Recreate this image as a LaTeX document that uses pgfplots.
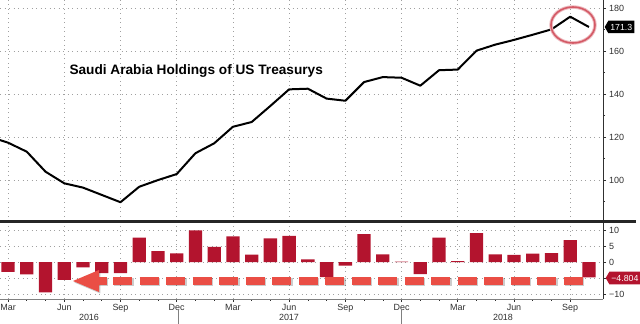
\documentclass[border=0pt]{standalone}
\usepackage{pgfplots}
\pgfplotsset{compat=1.18}
\usepackage{fontspec}
\setmainfont{Liberation Sans}
\usetikzlibrary{shapes.symbols}
\definecolor{barred}{HTML}{B3142E}
\definecolor{arrowred}{HTML}{EA4E45}
\definecolor{gridgray}{HTML}{A0A0A0}
\definecolor{ticktext}{HTML}{303030}
\definecolor{circred}{HTML}{D45A66}
\begin{document}
\begin{tikzpicture}
\path[use as bounding box] (0bp,0bp) rectangle (640bp,324bp);
\pgfplotsset{
  bb/.style={
    scale only axis, width=603bp,
    xmin=-0.43, xmax=31.75,
    axis y line*=right, axis x line*=bottom,
    y axis line style={draw=none},
    grid=major,
    major grid style={gridgray, line width=0.6bp, dash pattern=on 0.9bp off 3.6bp},
    xtick={0,3,...,30},
    tick align=outside,
    major tick length=3bp, minor tick length=2bp,
    tick style={ticktext, line width=0.6bp},
    ticklabel style={font=\fontsize{9}{10}\selectfont, text=ticktext},
    yticklabel style={anchor=west, inner sep=0pt, xshift=3bp},
    /pgf/number format/assume math mode=true,
  }
}
% top panel
\begin{axis}[bb, at={(0bp,103bp)}, anchor=south west, height=221bp,
  ymin=81.07, ymax=183.86,
  x axis line style={draw=none},
  xtick style={draw=none}, xticklabels={},
  ytick={100,120,140,160,180}, yticklabels={100,120,140,160,180},
  minor ytick={90,110,130,150,170},
]
\addplot[black, line width=2bp, line join=round] coordinates {
(-1,120.3) (0,117.5) (1,113.3) (2,104.0) (3,98.6) (4,96.6) (5,93.2) (6,89.8)
(7,97.0) (8,100.1) (9,102.9) (10,112.6) (11,117.2) (12,124.9) (13,127.1)
(14,134.6) (15,142.3) (16,142.6) (17,138.0) (18,137.0) (19,145.7) (20,148.0)
(21,147.7) (22,144.0) (23,151.2) (24,151.5) (25,160.3) (26,163.1) (27,165.3)
(28,167.7) (29,170.2) (30,176.1) (31,171.3)};
\end{axis}
% bottom panel
\begin{axis}[bb, at={(0bp,25bp)}, anchor=south west, height=75bp,
  ymin=-11.56, ymax=11.875,
  x axis line style={draw=gray, line width=0.6bp},
  minor x tick num=2,
  xticklabels={Mar,Jun,Sep,Dec,Mar,Jun,Sep,Dec,Mar,Jun,Sep},
  xticklabel style={inner sep=0pt, yshift=-2bp},
  ytick={-10,-5,0,5,10}, yticklabels={−10,,0,5,10},
]
\addplot[ybar, bar width=13.3bp, fill=barred, draw=none] coordinates {
(0,-3.1) (1,-3.9) (2,-9.5) (3,-5.6) (4,-1.7) (5,-3.5) (6,-3.5) (7,7.6)
(8,3.4) (9,2.7) (10,9.9) (11,4.7) (12,8.0) (13,2.3) (14,7.4) (15,8.2)
(16,0.8) (17,-4.7) (18,-1.1) (19,8.75) (20,2.4) (21,0.15) (22,-3.75) (23,7.6)
(24,0.3) (25,9.0) (26,2.4) (27,2.2) (28,2.6) (29,2.8) (30,6.8) (31,-4.804)};
\end{axis}
\begin{scope}[x=1bp,y=1bp]
% frame lines
\draw[ticktext, line width=0.7bp] (603.3,25) -- (603.3,324);
\draw[black!85, line width=3bp] (0,102.3) -- (636,102.3);
% title
\node[anchor=west, font=\bfseries\fontsize{13.7}{16}\selectfont] at (66,253) {Saudi Arabia Holdings of US Treasurys};
% year labels
\node[font=\fontsize{9}{10}\selectfont, text=ticktext] at (89,6.5) {2016};
\node[font=\fontsize{9}{10}\selectfont, text=ticktext] at (289,6.5) {2017};
\node[font=\fontsize{9}{10}\selectfont, text=ticktext] at (503,6.5) {2018};
\draw[gray, line width=0.6bp] (178,0) -- (178,15);
\draw[gray, line width=0.6bp] (401.7,0) -- (401.7,15);
% circle
\draw[circred!40, line width=3.5bp] (573,299) ellipse [x radius=22, y radius=18];
\draw[circred, line width=1.6bp] (573,299) ellipse [x radius=22, y radius=18];
% value labels
\node[signal, signal to=west, signal pointer angle=120, fill=black, text=white,
  font=\fontsize{8.8}{9}\selectfont, inner xsep=2bp, inner ysep=2bp, anchor=west, minimum height=12.5bp] at (604.5,297) {171.3};
\node[signal, signal to=west, signal pointer angle=120, fill=barred, text=white,
  font=\fontsize{8.8}{9}\selectfont, inner xsep=2bp, inner ysep=2bp, anchor=west, minimum height=12.5bp] at (605.5,46) {−4.804};
% dashed arrow
\begin{scope}[shift={(1.3,-1.5)}, opacity=0.2]
\draw[black, line width=8bp, dash pattern=on 19.3bp off 7.2bp] (113,43) -- (583,43);
\fill[black] (73,43) -- (99,54) -- (99,32) -- cycle;
\fill[black] (98,39) rectangle (107,47);
\end{scope}
\draw[arrowred, line width=8bp, dash pattern=on 19.3bp off 7.2bp] (113,43) -- (583,43);
\fill[arrowred] (73,43) -- (99,54) -- (99,32) -- cycle;
\fill[arrowred] (98,39) rectangle (107,47);
\end{scope}
\end{tikzpicture}
\end{document}
